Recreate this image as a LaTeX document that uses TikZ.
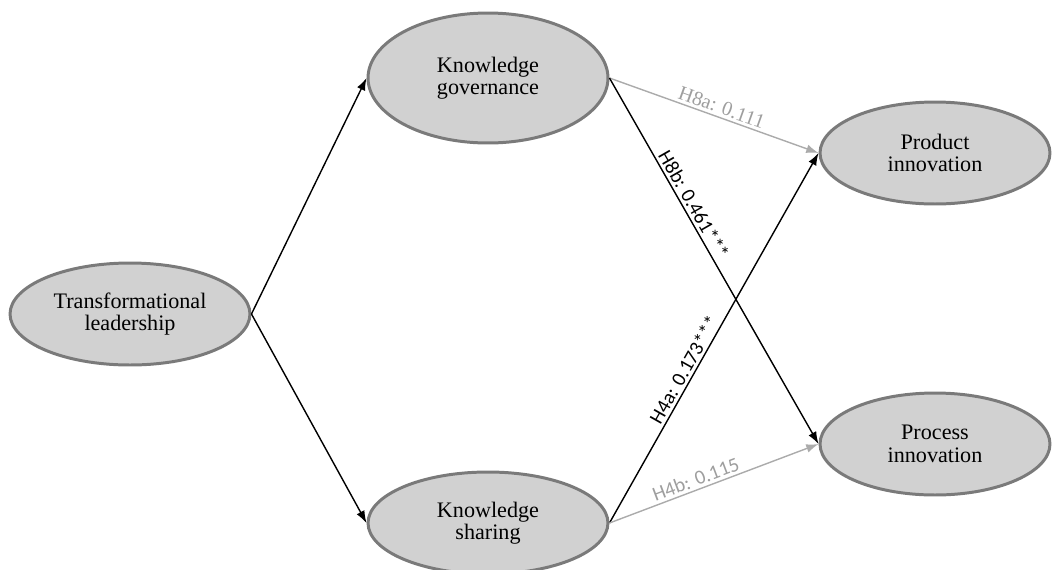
\documentclass[tikz,border=0pt]{standalone}
\usepackage{fontspec}
\setmainfont{Liberation Serif}
\newfontfamily\coeffont{Carlito}
\usetikzlibrary{shapes.geometric,arrows.meta}

\begin{document}
\begin{tikzpicture}[x=0.02cm,y=-0.02cm,
    construct/.style={ellipse, draw=black!52, fill=black!18, line width=1.7pt,
        inner sep=0pt, align=center, font=\fontsize{12.6}{12.8}\selectfont},
    strongpath/.style={line width=0.8pt, -{Latex[length=7pt,width=5pt]}},
    weakpath/.style={strongpath, draw=black!33},
    coef/.style={sloped, above, inner sep=1.5pt, font=\coeffont\fontsize{11.5}{12}\selectfont}]

    % Fix the frame of the picture
    \useasboundingbox (0,0) rectangle (1052,569);

    % The constructs
    \node[construct, minimum width=4.8cm, minimum height=2.04cm] (TL) at (130,314) {Transformational\\leadership};
    \node[construct, minimum width=4.8cm, minimum height=2.6cm] (KG) at (488,78) {Knowledge\\governance};
    \node[construct, minimum width=4.8cm, minimum height=2.04cm] (KS) at (488,523) {Knowledge\\sharing};
    \node[construct, minimum width=4.6cm, minimum height=2.04cm] (PD) at (935,153) {Product\\innovation};
    \node[construct, minimum width=4.6cm, minimum height=2.04cm] (PC) at (935,444) {Process\\innovation};

    % Paths from the leader to the two knowledge constructs
    \draw[strongpath] (TL.east) -- (KG.west);
    \draw[strongpath] (TL.east) -- (KS.west);

    % Paths from knowledge governance
    \draw[weakpath] (KG.east) -- node[coef, pos=0.52, text=black!38, font=\fontsize{11.5}{12}\selectfont] (h8a) {H8a: 0.111} (PD.west);
    \draw[strongpath] (KG.east) -- node[coef, pos=0.36] (h8b) {H8b: 0.461***} (PC.west);

    % Paths from knowledge sharing
    \draw[strongpath] (KS.east) -- node[coef, pos=0.4] (h4a) {H4a: 0.173***} (PD.west);
    \draw[weakpath] (KS.east) -- node[coef, pos=0.43, text=black!38] (h4b) {H4b: 0.115} (PC.west);

\end{tikzpicture}
\end{document}
